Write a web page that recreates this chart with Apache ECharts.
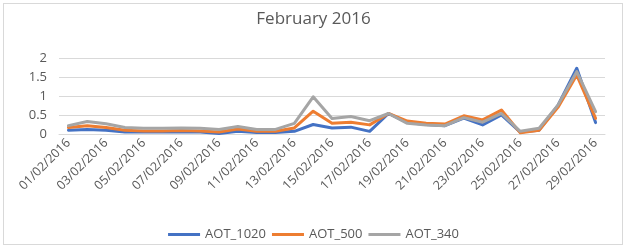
<!DOCTYPE html>
<html>
<head>
<meta charset="utf-8">
<script src="https://cdn.jsdelivr.net/npm/echarts@6/dist/echarts.min.js"></script>
<style>
  html, body { margin: 0; padding: 0; background: #fff; }
  #frame { position: absolute; left: 3px; top: 3px; width: 618px; height: 240px; border: 1px solid #d9d9d9; }
  #chart { position: absolute; left: 0; top: 0; width: 627px; height: 249px; }
</style>
</head>
<body>
<div id="frame"></div>
<div id="chart"></div>
<script>
// days of February 2016
const days = [
  "01/02/2016","02/02/2016","03/02/2016","04/02/2016","05/02/2016","06/02/2016","07/02/2016",
  "08/02/2016","09/02/2016","10/02/2016","11/02/2016","12/02/2016","13/02/2016","14/02/2016",
  "15/02/2016","16/02/2016","17/02/2016","18/02/2016","19/02/2016","20/02/2016","21/02/2016",
  "22/02/2016","23/02/2016","24/02/2016","25/02/2016","26/02/2016","27/02/2016","28/02/2016",
  "29/02/2016"
];

const aot1020 = [0.10, 0.12, 0.10, 0.05, 0.05, 0.05, 0.06, 0.05, 0.01, 0.07, 0.04, 0.04, 0.07, 0.25,
  0.16, 0.18, 0.07, 0.54, 0.30, 0.25, 0.22, 0.42, 0.24, 0.50, 0.05, 0.10, 0.75, 1.73, 0.30];
const aot500 = [0.17, 0.22, 0.17, 0.10, 0.08, 0.08, 0.09, 0.08, 0.05, 0.13, 0.07, 0.07, 0.16, 0.60,
  0.28, 0.31, 0.24, 0.54, 0.34, 0.28, 0.26, 0.48, 0.37, 0.63, 0.03, 0.10, 0.70, 1.55, 0.41];
const aot340 = [0.22, 0.33, 0.27, 0.17, 0.15, 0.15, 0.16, 0.15, 0.12, 0.20, 0.12, 0.12, 0.28, 0.98,
  0.41, 0.46, 0.35, 0.54, 0.28, 0.24, 0.22, 0.43, 0.31, 0.54, 0.07, 0.15, 0.76, 1.64, 0.59];

const yTicks = [0, 0.5, 1, 1.5, 2];

const font = "Open Sans";
const textColor = "#595959";

let myChart = echarts.init(document.getElementById("chart"));

function line(name, data, color) {
  return {
    name: name,
    type: "line",
    data: data,
    showSymbol: false,
    symbol: "none",
    lineStyle: { width: 3, color: color, cap: "round", join: "round" },
    itemStyle: { color: color }
  };
}

myChart.setOption({
  animation: false,
  title: {
    text: "February 2016",
    left: "center",
    top: 6,
    textStyle: { fontFamily: font, fontSize: 17, fontWeight: "normal", color: textColor }
  },
  grid: { left: 59, right: 22, top: 58, bottom: 115 },
  legend: {
    bottom: 3,
    left: "center",
    icon: "rect",
    itemWidth: 32,
    itemHeight: 3,
    itemGap: 6,
    textStyle: { fontFamily: font, fontSize: 13, color: textColor },
    data: ["AOT_1020", "AOT_500", "AOT_340"]
  },
  xAxis: {
    type: "category",
    data: days,
    boundaryGap: true,
    axisLine: { lineStyle: { color: "#d9d9d9" } },
    axisTick: { interval: 1, length: 5, lineStyle: { color: "#d9d9d9" } },
    axisLabel: {
      interval: 1,
      rotate: 45,
      margin: 7,
      fontFamily: font,
      fontSize: 12.5,
      color: textColor
    }
  },
  yAxis: {
    type: "value",
    min: yTicks[0],
    max: yTicks[yTicks.length - 1],
    interval: 0.5,
    axisLine: { show: false },
    axisTick: { show: false },
    splitLine: { lineStyle: { color: "#d9d9d9" } },
    axisLabel: {
      margin: 12,
      fontFamily: font,
      fontSize: 13,
      color: textColor,
      formatter: function (v) { return String(v); }
    }
  },
  series: [
    line("AOT_1020", aot1020, "#4472C4"),
    line("AOT_500", aot500, "#ED7D31"),
    line("AOT_340", aot340, "#A5A5A5")
  ]
});
</script>
</body>
</html>
